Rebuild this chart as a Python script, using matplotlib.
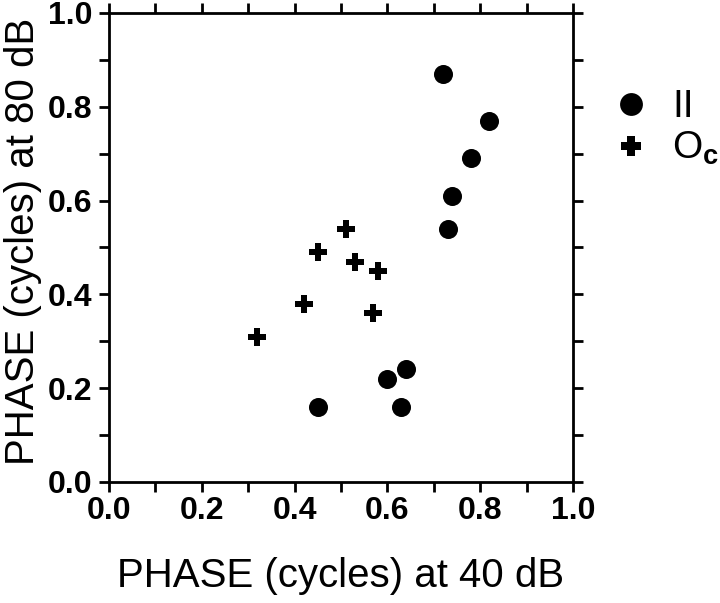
import matplotlib
matplotlib.use("Agg")
import matplotlib.pyplot as plt
from matplotlib.path import Path
from matplotlib.ticker import MultipleLocator

# phase values (cycles)
ii_40db = [0.72, 0.82, 0.78, 0.74, 0.73, 0.45, 0.60, 0.64, 0.63]
ii_80db = [0.87, 0.77, 0.69, 0.61, 0.54, 0.16, 0.22, 0.24, 0.16]
oc_40db = [0.51, 0.45, 0.53, 0.58, 0.42, 0.57, 0.32]
oc_80db = [0.54, 0.49, 0.47, 0.45, 0.38, 0.36, 0.31]

tick_vals = [0.0, 0.2, 0.4, 0.6, 0.8, 1.0]
tick_labels = ["0.0", "0.2", "0.4", "0.6", "0.8", "1.0"]

plt.rcParams.update({
    "font.family": ["Liberation Sans", "DejaVu Sans"],
    "mathtext.fontset": "custom",
    "mathtext.rm": "Liberation Sans",
    "mathtext.bf": "Liberation Sans:bold",
    "axes.linewidth": 2.0,
})

# fat plus sign, arms a bit thicker than the built-in "P"
a, b = 0.2, 0.5
plus = Path([(-a, -b), (a, -b), (a, -a), (b, -a), (b, a), (a, a), (a, b),
             (-a, b), (-a, a), (-b, a), (-b, -a), (-a, -a), (-a, -b)],
            closed=True)

fig = plt.figure(figsize=(7.2, 6.03), dpi=100)
ax = fig.add_axes([0.1514, 0.2007, 0.6444, 0.7778])

h_ii, = ax.plot(ii_40db, ii_80db, linestyle="none", marker="o",
                markersize=13.7, color="black", markeredgewidth=0)
h_oc, = ax.plot(oc_40db, oc_80db, linestyle="none", marker=plus,
                markersize=12.5, color="black", markeredgewidth=0)

ax.set_xlim(0, 1)
ax.set_ylim(0, 1)
ax.set_xticks(tick_vals)
ax.set_yticks(tick_vals)
tick_font = {"size": 23, "weight": "bold"}
ax.set_xticklabels(tick_labels, fontdict=tick_font)
ax.set_yticklabels(tick_labels, fontdict=tick_font)
ax.xaxis.set_minor_locator(MultipleLocator(0.1))
ax.yaxis.set_minor_locator(MultipleLocator(0.1))
ax.tick_params(which="both", direction="out", length=7.2, width=2.0,
               top=True, right=True, labeltop=False, labelright=False)
ax.tick_params(axis="y", which="major", pad=5)
ax.tick_params(axis="x", which="major", pad=3)

ax.set_xlabel("PHASE (cycles) at 40 dB", fontsize=29, labelpad=22)
ax.set_ylabel("PHASE (cycles) at 80 dB", fontsize=29)
ax.yaxis.set_label_coords(-0.145, 0.513)

ax.legend([h_ii, h_oc], ["II", r"O$_\mathbf{c}$"], loc="center left",
          bbox_to_anchor=(0.85, 0.787), bbox_transform=fig.transFigure,
          frameon=False, fontsize=28, markerscale=1.2, handlelength=1.0,
          handletextpad=0.54, labelspacing=0.12, borderpad=0, borderaxespad=0)

fig.savefig("out.png", dpi=100)
